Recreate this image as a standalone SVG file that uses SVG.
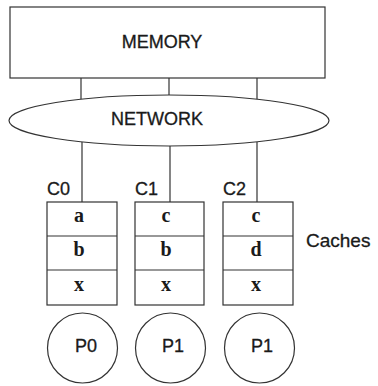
<svg xmlns="http://www.w3.org/2000/svg" width="378" height="386" viewBox="0 0 378 386">
<style>
.s{fill:#fff;stroke:#333;stroke-width:1.2}
.l{stroke:#333;stroke-width:1.2;fill:none}
.t{font-family:"Liberation Sans",Arial,sans-serif;font-size:18px;fill:#1a1a1a;stroke:#1a1a1a;stroke-width:0.3}
.c{font-family:"Liberation Serif","Times New Roman",serif;font-weight:bold;font-size:20px;fill:#1a1a1a;text-anchor:middle}
.m{text-anchor:middle}
</style>
<rect width="378" height="386" fill="#fff"/>
<g id="connectors">
<line class="l" x1="81" y1="78" x2="81" y2="100"/>
<line class="l" x1="169" y1="78" x2="169" y2="95"/>
<line class="l" x1="257" y1="78" x2="257" y2="100"/>
<line class="l" x1="82" y1="142" x2="82" y2="202"/>
<line class="l" x1="170" y1="146" x2="170" y2="202"/>
<line class="l" x1="257" y1="142" x2="257" y2="202"/>
</g>
<g id="memory">
<rect class="s" x="10" y="7" width="315" height="71"/>
<text class="t m" x="162" y="48">MEMORY</text>
</g>
<g id="network">
<ellipse class="s" cx="169" cy="120.5" rx="160" ry="25.5"/>
<text class="t m" x="157" y="125">NETWORK</text>
</g>
<g id="cache0">
<text class="t" x="47" y="195">C0</text>
<rect class="s" x="47" y="202" width="70" height="103"/>
<line class="l" x1="47" y1="236" x2="117" y2="236"/>
<line class="l" x1="47" y1="270" x2="117" y2="270"/>
<text class="c" x="79" y="222">a</text>
<text class="c" x="79" y="256">b</text>
<text class="c" x="79" y="291">x</text>
</g>
<g id="cache1">
<text class="t" x="135" y="195">C1</text>
<rect class="s" x="135" y="202" width="69" height="103"/>
<line class="l" x1="135" y1="236" x2="204" y2="236"/>
<line class="l" x1="135" y1="270" x2="204" y2="270"/>
<text class="c" x="166" y="222">c</text>
<text class="c" x="166" y="256">b</text>
<text class="c" x="166" y="291">x</text>
</g>
<g id="cache2">
<text class="t" x="223" y="195">C2</text>
<rect class="s" x="223" y="202" width="70" height="103"/>
<line class="l" x1="223" y1="236" x2="293" y2="236"/>
<line class="l" x1="223" y1="270" x2="293" y2="270"/>
<text class="c" x="256" y="222">c</text>
<text class="c" x="256" y="256">d</text>
<text class="c" x="256" y="291">x</text>
</g>
<g id="caches-label">
<text class="t" x="306" y="247" style="font-size:19px">Caches</text>
</g>
<g id="p0">
<circle class="s" cx="82.5" cy="348" r="35"/>
<text class="t m" x="86" y="352">P0</text>
</g>
<g id="p1a">
<circle class="s" cx="170.5" cy="348" r="35"/>
<text class="t m" x="173" y="352">P1</text>
</g>
<g id="p1b">
<circle class="s" cx="259.5" cy="348" r="35"/>
<text class="t m" x="262" y="352">P1</text>
</g>
</svg>
